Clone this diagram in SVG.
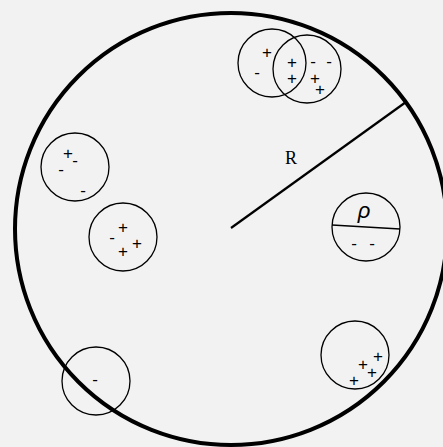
<svg xmlns="http://www.w3.org/2000/svg" width="443" height="447" viewBox="0 0 443 447">
<style>
.c{fill:none;stroke:#000;stroke-width:1.3}
.t{font-family:"Liberation Sans",Arial,sans-serif;font-size:17px;fill:#000;text-anchor:middle}
.r{font-family:"Liberation Serif","Times New Roman",serif;font-size:18px;fill:#000;text-anchor:middle}
</style>
<rect width="443" height="447" fill="#f2f2f2"/>
<g id="big">
<circle cx="231" cy="229" r="216" fill="none" stroke="#000" stroke-width="4"/>
</g>
<g id="connectors">
<line x1="231" y1="228" x2="406" y2="102" stroke="#000" stroke-width="2.2"/>
</g>
<text class="r" x="291" y="164">R</text>
<g id="pair">
<circle class="c" cx="272" cy="63" r="34"/>
<circle class="c" cx="307" cy="69" r="34"/>
<text class="t" x="267" y="58">+</text>
<text class="t" x="257" y="78">-</text>
<text class="t" x="292" y="68">+</text>
<text class="t" x="292" y="84">+</text>
<text class="t" x="313" y="67">-</text>
<text class="t" x="329" y="67">-</text>
<text class="t" x="315" y="84">+</text>
<text class="t" x="320" y="95">+</text>
</g>
<g id="c2">
<circle class="c" cx="75" cy="167" r="34"/>
<text class="t" x="68" y="159">+</text>
<text class="t" x="75" y="166">-</text>
<text class="t" x="61" y="175">-</text>
<text class="t" x="83" y="196">-</text>
</g>
<g id="c3">
<circle class="c" cx="123" cy="237" r="34"/>
<text class="t" x="123" y="233">+</text>
<text class="t" x="112" y="243">-</text>
<text class="t" x="123" y="257">+</text>
<text class="t" x="137" y="249">+</text>
</g>
<g id="rho">
<circle class="c" cx="366" cy="227" r="34"/>
<line x1="332" y1="225" x2="400" y2="229" stroke="#000" stroke-width="1.3"/>
<text class="t" x="364" y="218" style="font-size:22px;font-style:italic">ρ</text>
<text class="t" x="354" y="249">-</text>
<text class="t" x="372" y="249">-</text>
</g>
<g id="c5">
<circle class="c" cx="355" cy="355" r="34"/>
<text class="t" x="378" y="362">+</text>
<text class="t" x="363" y="370">+</text>
<text class="t" x="372" y="378">+</text>
<text class="t" x="354" y="386">+</text>
</g>
<g id="c6">
<circle class="c" cx="96" cy="381" r="34"/>
<text class="t" x="95" y="385">-</text>
</g>
</svg>
